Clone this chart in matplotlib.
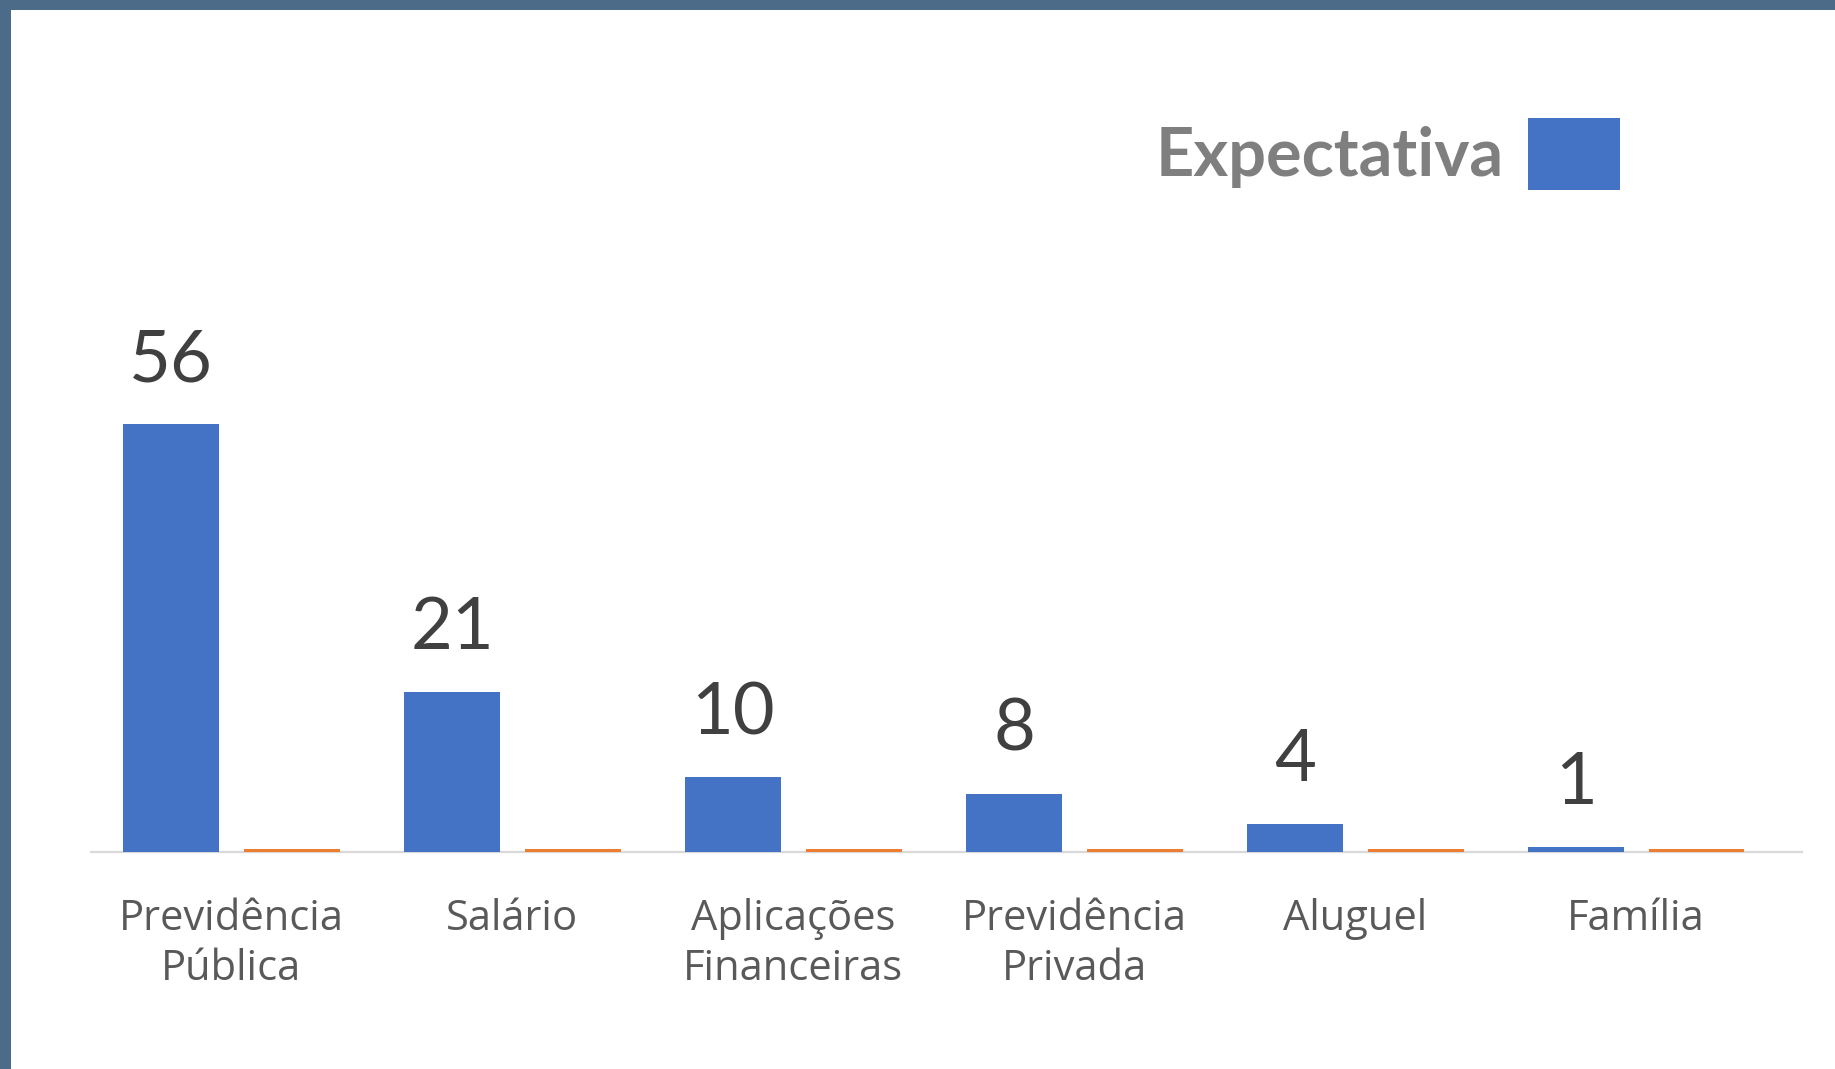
import matplotlib
matplotlib.use("Agg")
import matplotlib.pyplot as plt
import matplotlib.patches as mpatches

# data
categorias = ["Previdência\nPública", "Salário", "Aplicações\nFinanceiras",
              "Previdência\nPrivada", "Aluguel", "Família"]
expectativa = [56, 21, 9.8, 7.6, 3.6, 0.6]
realidade = [0.35, 0.35, 0.35, 0.35, 0.35, 0.35]

W, H = 1835, 1069
fig = plt.figure(figsize=(W / 100, H / 100), dpi=100)
fig.patch.set_facecolor('#4b6b89')
# white slide area, blue frame only left and top
fig.patches.append(mpatches.Rectangle((11 / W, 0), 1, (H - 10) / H,
                                      transform=fig.transFigure,
                                      facecolor='white', edgecolor='none', zorder=-10))

px_per_unit = 7.64
ymax = 80
ax = fig.add_axes([91 / W, 217 / H, 1711 / W, ymax * px_per_unit / H])
ax.set_facecolor('none')
ax.set_zorder(5)

x = list(range(len(categorias)))
off = 0.2145
w = 0.3416
b1 = ax.bar([i - off for i in x], expectativa, w, color='#4472C4', label='Expectativa', zorder=3)
ax.bar([i + off for i in x], realidade, w, color='#ED7D31', zorder=3)

for xi, v in zip(x, expectativa):
    ax.annotate(str(int(v + 0.5)), (xi - off, v), xytext=(0, 43), textcoords='offset pixels',
                ha='center', va='baseline', fontsize=52, family='Lato', color='#404040')

ax.set_xlim(-0.5, 5.59)
ax.set_ylim(0, ymax)
for s in ['top', 'right', 'left']:
    ax.spines[s].set_visible(False)
ax.spines['bottom'].set_color('#d9d9d9')
ax.spines['bottom'].set_linewidth(1.6)
ax.set_yticks([])
ax.set_xticks(x)
ax.set_xticklabels(categorias, fontsize=30, family='Open Sans', color='#595959', linespacing=1.25)
ax.tick_params(axis='x', length=0, pad=33)

leg = fig.legend(handles=[b1], labels=['Expectativa'], loc='center right',
                 bbox_to_anchor=(1620 / W, 1 - 154 / H), frameon=False, markerfirst=False,
                 prop={'family': 'Lato', 'weight': 'bold', 'size': 48},
                 handlelength=1.38, handleheight=1.3, handletextpad=0.36,
                 borderpad=0, borderaxespad=0)
for t in leg.get_texts():
    t.set_color('#7f7f7f')

fig.savefig('out.png', dpi=100, facecolor=fig.get_facecolor())
